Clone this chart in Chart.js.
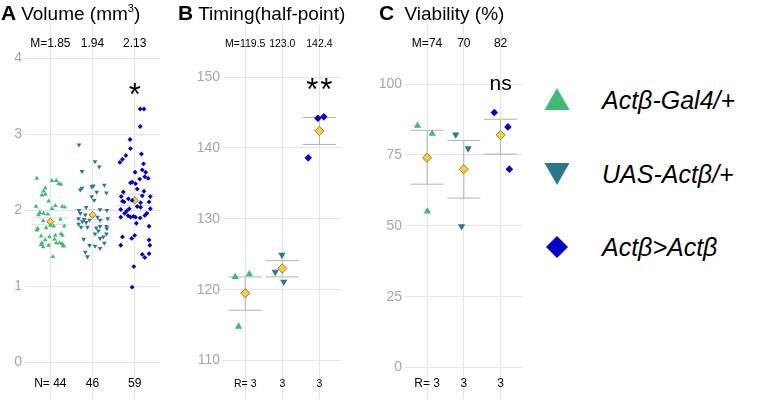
<!DOCTYPE html>
<html>
<head>
<meta charset="utf-8">
<script src="https://cdn.jsdelivr.net/npm/chart.js@4.4.1/dist/chart.umd.min.js"></script>
<style>
  body { margin: 0; background: #fff; font-family: 'Liberation Sans', Arial, Helvetica, sans-serif; }
  #wrap { position: relative; width: 762px; height: 401px; overflow: hidden; }
  canvas { position: absolute; top: 0; }
  .ttl { position: absolute; top: 3px; font-size: 19px; line-height: 19px; white-space: nowrap; color: #000; }
  .ttl b { font-size: 21px; margin-right: 5px; }
  .ttl sup { font-size: 11px; vertical-align: 8px; line-height: 0; }
  .leg { position: absolute; left: 540px; width: 222px; height: 40px; }
  .leg svg { position: absolute; left: 4px; top: 7px; }
  .leg span { position: absolute; left: 62px; top: 5px; font-size: 25px; font-style: italic; line-height: 30px; white-space: nowrap; }
</style>
</head>
<body>
<div id="wrap">
  <canvas id="volChart" width="165" height="410" style="left:0px"></canvas>
  <canvas id="timChart" width="157" height="410" style="left:190px"></canvas>
  <canvas id="viaChart" width="158" height="410" style="left:370px"></canvas>

  <div class="ttl" style="left:1px"><b>A</b>Volume (mm<sup>3</sup>)</div>
  <div class="ttl" style="left:178px"><b>B</b>Timing(half-point)</div>
  <div class="ttl" style="left:379px"><b>C</b> Viability (%)</div>

  <div class="leg" style="top:80px">
    <svg width="30" height="26"><polygon points="13,1 25.5,23 0.5,23" fill="#3cbb75"/></svg>
    <span>Actβ-Gal4/+</span>
  </div>
  <div class="leg" style="top:154px">
    <svg width="30" height="26"><polygon points="0.5,2 25.5,2 13,24" fill="#2a788e"/></svg>
    <span>UAS-Actβ/+</span>
  </div>
  <div class="leg" style="top:227px">
    <svg width="30" height="26"><polygon points="13,2 24,13 13,24 2,13" fill="#0000c8"/></svg>
    <span>Actβ&gt;Actβ</span>
  </div>
</div>

<script>
// groups, in plotting order
const groups = ['Actβ-Gal4/+', 'UAS-Actβ/+', 'Actβ>Actβ'];
const colors = ['#3cbb75', '#2a788e', '#0000c8'];

// ---- A: volume (mm3), one value per animal, plus its horizontal jitter ----
const volGal4 = [2.42, 2.39, 2.39, 2.35, 2.34, 2.29, 2.25, 2.20, 2.21, 2.12, 2.05, 1.97, 1.94, 2.02, 2.06,
  2.05, 2.04, 1.96, 1.95, 1.88, 1.86, 1.76, 1.74, 1.77, 1.80, 1.79, 1.79, 1.69, 1.67, 1.67,
  1.66, 1.65, 1.61, 1.62, 1.57, 1.52, 1.54, 1.57, 1.56, 1.54, 1.57, 1.53, 1.55, 1.39];
const volGal4Jit = [-0.32, 0.04, 0.14, 0.20, 0.25, -0.12, -0.16, -0.20, -0.12, -0.04, -0.34, -0.25, -0.28, 0.04, 0.12,
  0.28, 0.34, -0.16, -0.06, 0.24, -0.17, -0.30, -0.32, -0.10, 0.00, 0.08, 0.33, 0.25, 0.12, 0.29,
  -0.22, -0.02, -0.12, 0.10, -0.20, -0.17, -0.04, 0.14, 0.28, 0.30, 0.22, 0.32, -0.22, 0.06];

const volUas = [2.86, 2.64, 2.57, 2.51, 2.27, 2.29, 2.31, 2.32, 2.33, 2.24, 2.23, 2.18, 2.13, 2.04, 2.01,
  2.00, 2.00, 1.96, 1.88, 1.87, 1.85, 1.84, 1.87, 1.89, 1.89, 1.82, 1.78, 1.78, 1.77, 1.79,
  1.79, 1.73, 1.69, 1.69, 1.65, 1.63, 1.62, 1.54, 1.53, 1.50, 1.57, 1.45, 1.39, 1.91, 1.94, 1.76];
const volUasJit = [-0.32, 0.06, 0.16, -0.25, -0.29, -0.25, -0.02, 0.02, 0.28, 0.10, 0.33, -0.02, 0.04, -0.15, 0.18,
  -0.32, 0.34, -0.29, -0.20, -0.07, -0.24, -0.15, 0.18, 0.36, -0.33, -0.33, -0.27, -0.12, 0.09, 0.18,
  0.33, 0.14, 0.33, 0.06, 0.26, 0.18, -0.21, -0.07, 0.06, 0.18, 0.28, -0.17, -0.12, 0.12, -0.17, 0.34];

const volAct = [3.33, 3.33, 3.10, 2.93, 2.81, 2.72, 2.67, 2.63, 2.74, 2.61, 2.53, 2.50, 2.50, 2.42, 2.41,
  2.44, 2.35, 2.36, 2.37, 2.25, 2.28, 2.24, 2.18, 2.15, 2.18, 2.13, 2.11, 2.12, 2.10, 2.11,
  2.05, 2.01, 2.02, 2.04, 2.02, 1.96, 1.93, 1.92, 1.91, 1.91, 1.91, 1.90, 1.96, 1.93, 1.83,
  1.79, 1.65, 1.63, 1.67, 1.54, 1.61, 1.54, 1.42, 1.38, 1.43, 1.26, 0.99, 1.99, 2.19];
const volActJit = [0.13, 0.22, 0.13, -0.11, -0.10, -0.21, -0.29, -0.35, 0.16, 0.21, 0.18, 0.26, 0.01, 0.32, 0.12,
  0.24, 0.02, -0.10, -0.06, 0.22, 0.06, -0.27, 0.37, -0.15, -0.32, -0.06, -0.25, -0.29, 0.14, 0.34,
  0.06, -0.33, -0.13, 0.14, 0.37, -0.24, -0.16, -0.03, 0.02, -0.10, -0.33, 0.13, 0.29, 0.24, 0.04,
  0.34, -0.29, -0.07, 0.00, -0.33, 0.34, 0.36, 0.18, 0.24, 0.34, -0.02, -0.06, -0.19, 0.18];

const volMean = [1.85, 1.94, 2.13];
const volLo = [1.81, 1.88, 2.06];
const volHi = [1.90, 2.01, 2.21];
const volTicks = [0, 1, 2, 3, 4];
const volTop = ['M=1.85', '1.94', '2.13'];
const volBottom = ['N= 44', '46', '59'];

// ---- B: timing (half-point), three replicates each ----
const timGal4 = [121.8, 122.2, 114.8];
const timGal4Jit = [-0.27, 0.11, -0.18];
const timUas = [124.9, 122.5, 121.1];
const timUasJit = [-0.01, -0.19, 0.04];
const timAct = [138.6, 144.2, 144.4];
const timActJit = [-0.30, -0.04, 0.12];
const timMean = [119.5, 123.0, 142.4];
const timLo = [117.1, 121.8, 140.5];
const timHi = [121.8, 124.1, 144.3];
const timTicks = [110, 120, 130, 140, 150];
const timTop = ['M=119.5', '123.0', '142.4'];
const timBottom = ['R= 3', '3', '3'];

// ---- C: viability (%), three replicates each ----
const viaGal4 = [85.3, 82.5, 55.1];
const viaGal4Jit = [-0.26, 0.14, 0.01];
const viaUas = [82.2, 77.3, 49.8];
const viaUasJit = [-0.22, 0.12, -0.06];
const viaAct = [90.0, 84.9, 70.0];
const viaActJit = [-0.17, 0.20, 0.24];
const viaMean = [74, 70, 82];
const viaLo = [64.7, 59.8, 75.3];
const viaHi = [83.7, 80.1, 87.6];
const viaTicks = [0, 25, 50, 75, 100];
const viaTop = ['M=74', '70', '82'];
const viaBottom = ['R= 3', '3', '3'];

const FONT = "'Liberation Sans', Arial, Helvetica, sans-serif";
const GRID = '#e4e4e4';

// error bars, mean/N labels and significance marks
const extras = {
  id: 'extras',
  beforeDatasetsDraw(chart, args, o) {
    const { ctx } = chart;
    const xs = chart.scales.x, ys = chart.scales.y;
    ctx.save();
    ctx.strokeStyle = o.barColor;
    ctx.lineWidth = 1;
    o.lo.forEach((lo, g) => {
      const hi = o.hi[g];
      const x0 = xs.getPixelForValue(g - 0.45), x1 = xs.getPixelForValue(g + 0.45);
      const xc = xs.getPixelForValue(g);
      ctx.beginPath();
      ctx.moveTo(x0, ys.getPixelForValue(lo)); ctx.lineTo(x1, ys.getPixelForValue(lo));
      ctx.moveTo(x0, ys.getPixelForValue(hi)); ctx.lineTo(x1, ys.getPixelForValue(hi));
      ctx.moveTo(xc, ys.getPixelForValue(lo)); ctx.lineTo(xc, ys.getPixelForValue(hi));
      ctx.stroke();
    });
    ctx.restore();
  },
  afterDraw(chart, args, o) {
    const { ctx, chartArea } = chart;
    const xs = chart.scales.x, ys = chart.scales.y;
    ctx.save();
    ctx.fillStyle = '#000';
    ctx.textAlign = 'center';
    ctx.textBaseline = 'alphabetic';
    ctx.font = o.labelSize + 'px ' + FONT;
    o.top.forEach((t, g) => ctx.fillText(t, xs.getPixelForValue(g), chartArea.top + 22));
    o.bottom.forEach((t, g) => ctx.fillText(t, xs.getPixelForValue(g), chartArea.bottom - 12));
    ctx.font = o.sigSize + 'px ' + FONT;
    ctx.letterSpacing = o.sigGap + 'px';
    ctx.fillText(o.sig, xs.getPixelForValue(2) + o.sigGap / 2, ys.getPixelForValue(o.sigAt) + o.sigShift);
    ctx.restore();
  }
};

function makePanel(id, p) {
  const sets = [p.gal4, p.uas, p.act].map((vals, g) => ({
    data: vals.map((v, i) => ({ x: g + p.jit[g][i], y: v })),
    pointStyle: g === 2 ? 'rectRot' : 'triangle',
    rotation: g === 1 ? 180 : 0,
    backgroundColor: colors[g],
    borderColor: colors[g],
    borderWidth: 0,
    pointRadius: g === 2 ? p.r * 0.9 : p.r,
    label: groups[g]
  }));
  sets.push({
    data: p.mean.map((m, g) => ({ x: g, y: m })),
    pointStyle: 'rectRot',
    backgroundColor: '#f4d03f',
    borderColor: '#7d6a26',
    borderWidth: 0.8,
    pointRadius: p.meanR,
    label: 'mean'
  });

  new Chart(document.getElementById(id), {
    type: 'scatter',
    data: { datasets: sets },
    options: {
      responsive: false,
      animation: false,
      devicePixelRatio: 1,
      layout: { padding: { left: 0, right: 5, top: 25, bottom: 3 } },
      plugins: {
        legend: { display: false },
        tooltip: { enabled: false },
        extras: {
          lo: p.lo, hi: p.hi, top: p.top, bottom: p.bottom, labelSize: p.labelSize, barColor: p.barColor,
          sig: p.sig, sigAt: p.sigAt, sigSize: p.sigSize, sigShift: p.sigShift, sigGap: p.sigGap
        }
      },
      scales: {
        x: {
          type: 'linear', min: -0.6, max: 2.6,
          afterBuildTicks: s => { s.ticks = [0, 1, 2].map(v => ({ value: v })); },
          afterFit: s => { s.height = 0; },
          ticks: { display: false },
          grid: { color: GRID, drawTicks: false },
          border: { display: false }
        },
        y: {
          min: p.yMin, max: p.yMax,
          afterBuildTicks: s => { s.ticks = p.ticks.map(v => ({ value: v })); },
          afterFit: s => { s.width = p.yWidth; },
          ticks: { color: '#a6a6a6', font: { size: 14, family: FONT }, padding: 3 },
          grid: { color: GRID, drawTicks: false },
          border: { display: false }
        }
      }
    },
    plugins: [extras]
  });
}

makePanel('volChart', {
  gal4: volGal4, uas: volUas, act: volAct, jit: [volGal4Jit, volUasJit, volActJit],
  mean: volMean, lo: volLo, hi: volHi, ticks: volTicks, top: volTop, bottom: volBottom,
  yMin: -0.474, yMax: 4.434, yWidth: 25, r: 2.7, meanR: 3.6, labelSize: 12, barColor: '#d9d9d9',
  sig: '*', sigAt: 3.6, sigSize: 31, sigShift: 17, sigGap: 0
});

makePanel('timChart', {
  gal4: timGal4, uas: timUas, act: timAct, jit: [timGal4Jit, timUasJit, timActJit],
  mean: timMean, lo: timLo, hi: timHi, ticks: timTicks, top: timTop, bottom: timBottom,
  yMin: 104.63, yMax: 157.35, yWidth: 33, r: 4.2, meanR: 4.6, labelSize: 10.5, barColor: '#b3b3b3',
  sig: '**', sigAt: 149.1, sigSize: 31, sigShift: 17, sigGap: 2
});

makePanel('viaChart', {
  gal4: viaGal4, uas: viaUas, act: viaAct, jit: [viaGal4Jit, viaUasJit, viaActJit],
  mean: viaMean, lo: viaLo, hi: viaHi, ticks: viaTicks, top: viaTop, bottom: viaBottom,
  yMin: -10.95, yMax: 120.85, yWidth: 35, r: 4.2, meanR: 4.6, labelSize: 12, barColor: '#b3b3b3',
  sig: 'ns', sigAt: 100, sigSize: 21, sigShift: 6, sigGap: 0
});
</script>
</body>
</html>
